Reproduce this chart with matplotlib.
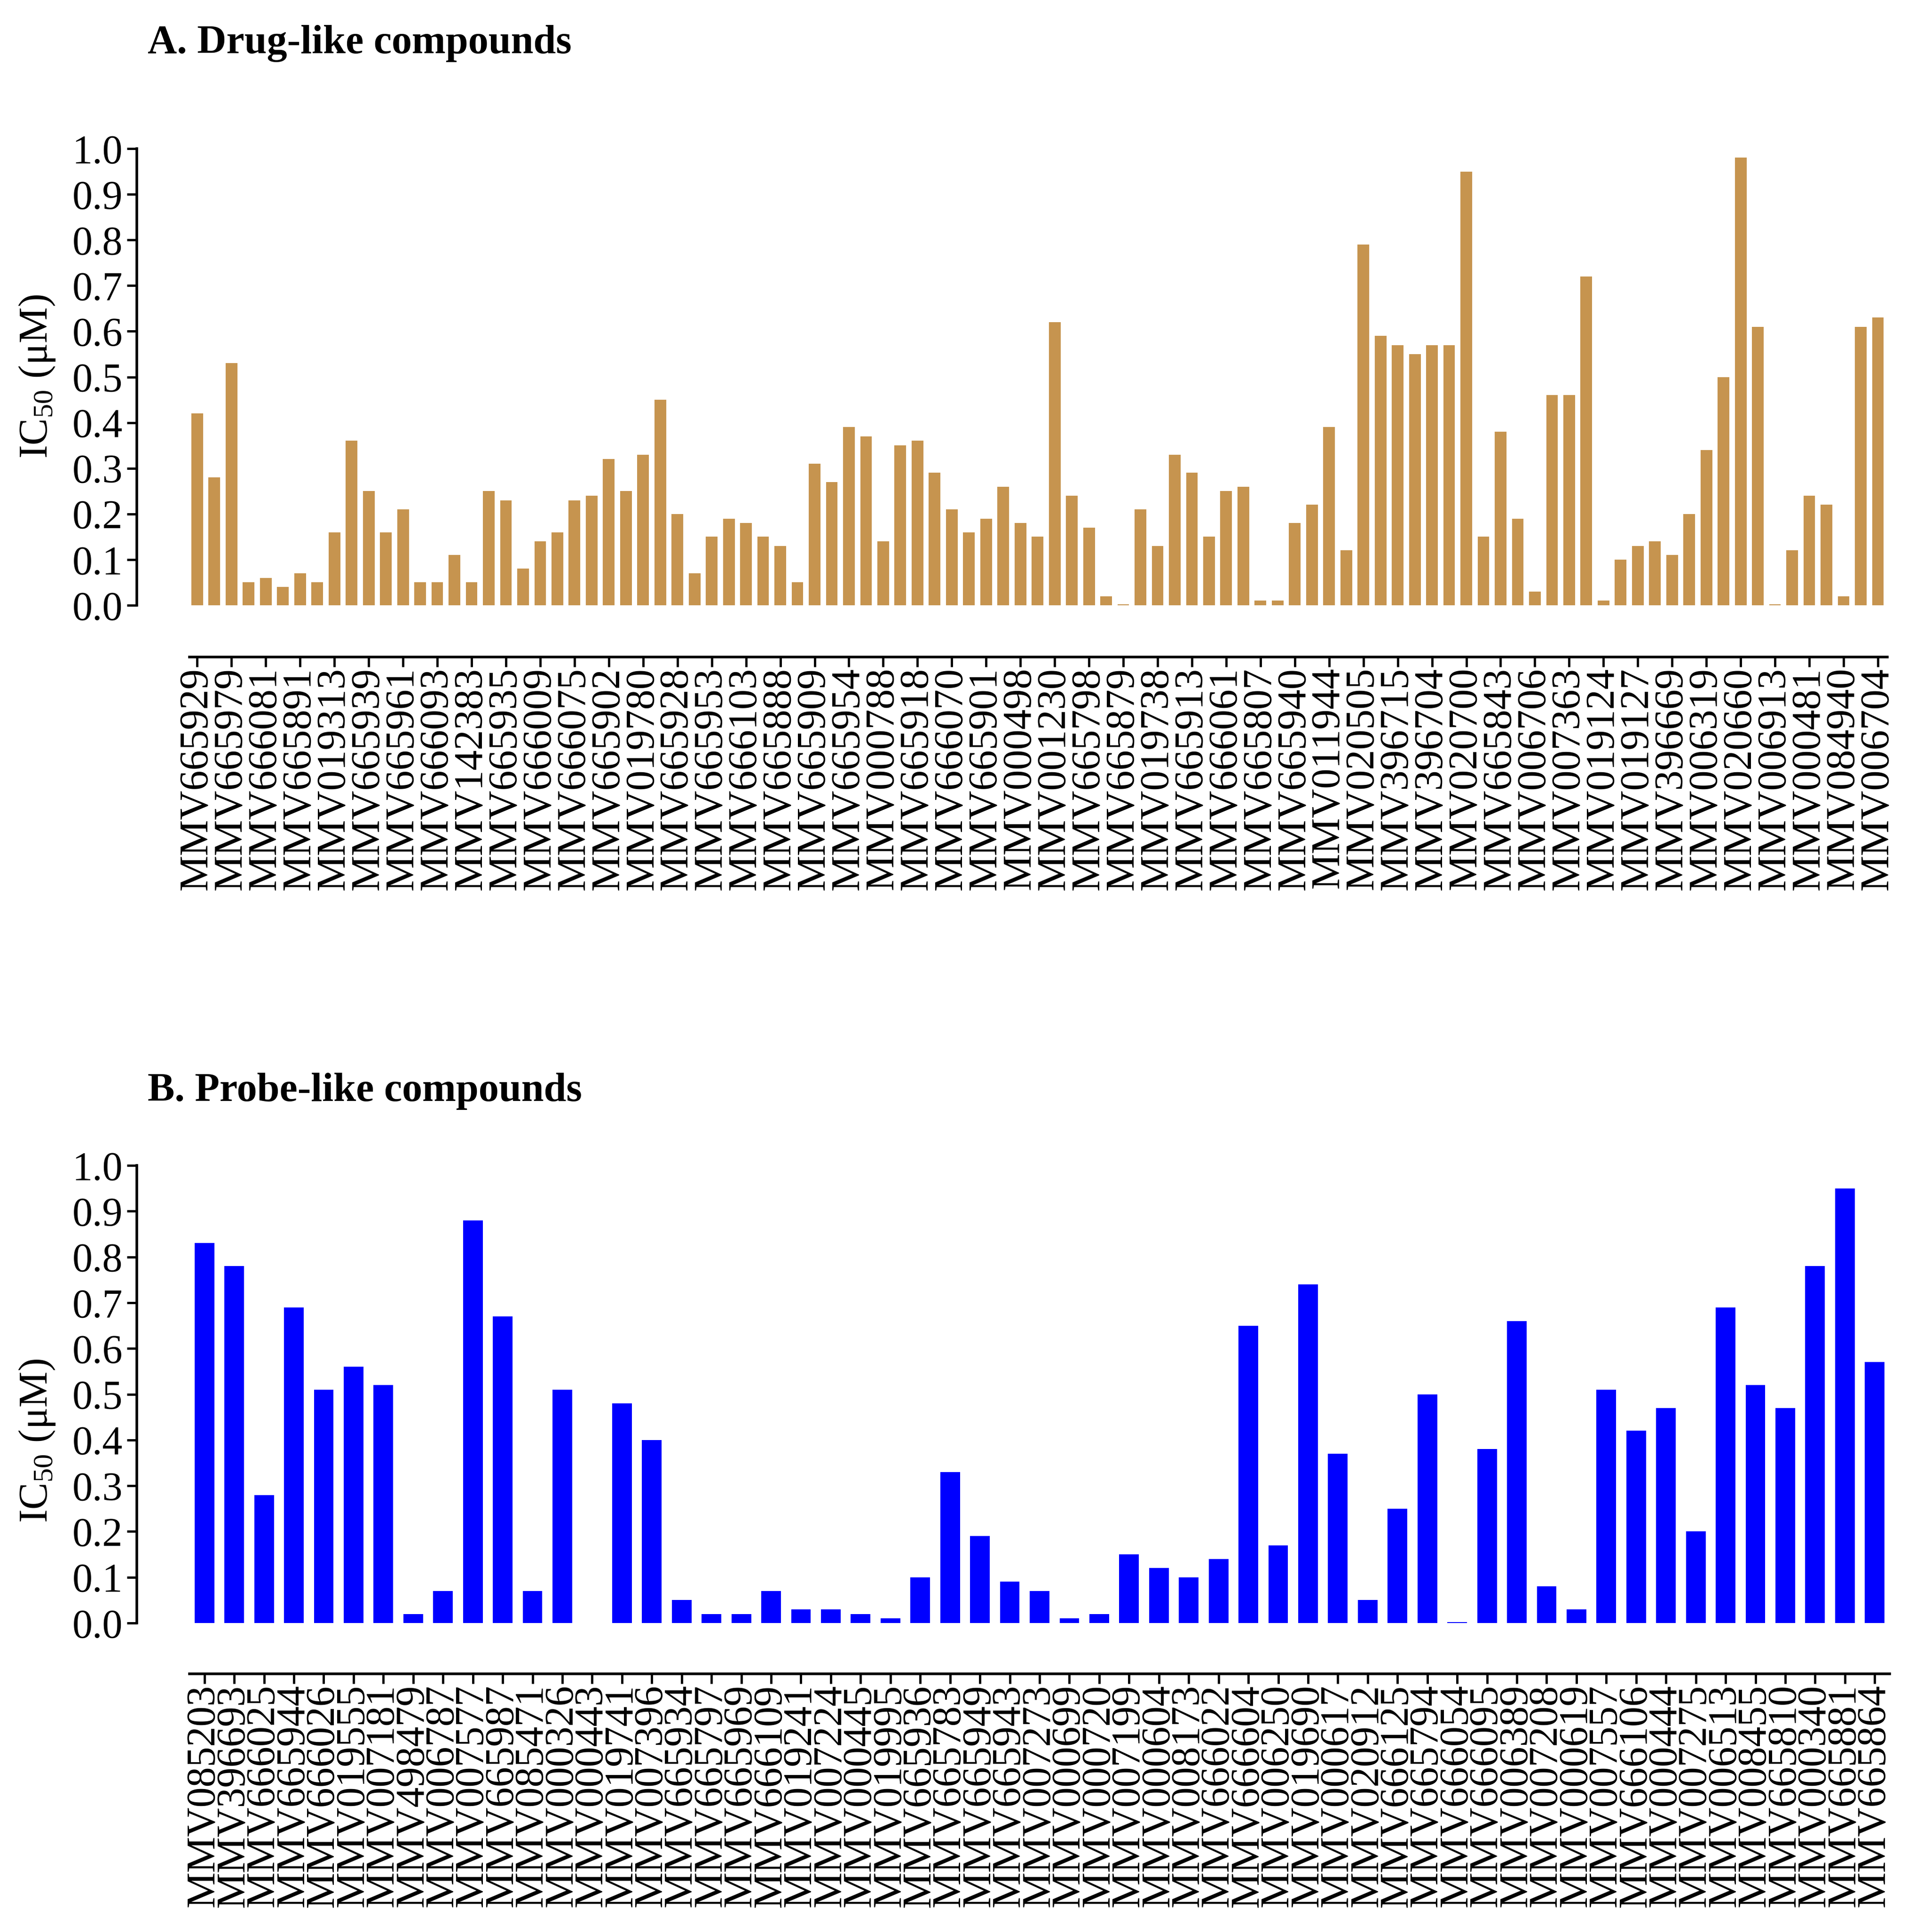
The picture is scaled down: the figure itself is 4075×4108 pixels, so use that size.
import numpy as np
import matplotlib
matplotlib.use("Agg")
import matplotlib.pyplot as plt

plt.rcParams['font.family'] = ['Liberation Serif', 'DejaVu Serif']
plt.rcParams['mathtext.fontset'] = 'custom'
plt.rcParams['mathtext.rm'] = 'Liberation Serif'
plt.rcParams['mathtext.it'] = 'Liberation Serif:italic'

# Panel A - drug-like compounds (only every other bar is labelled)
labels_a = ["MMV665929", "MMV665979", "MMV666081", "MMV665891", "MMV019313",
            "MMV665939", "MMV665961", "MMV666093", "MMV142383", "MMV665935",
            "MMV666009", "MMV666075", "MMV665902", "MMV019780", "MMV665928",
            "MMV665953", "MMV666103", "MMV665888", "MMV665909", "MMV665954",
            "MMV000788", "MMV665918", "MMV666070", "MMV665901", "MMV000498",
            "MMV001230", "MMV665798", "MMV665879", "MMV019738", "MMV665913",
            "MMV666061", "MMV665807", "MMV665940", "MMV011944", "MMV020505",
            "MMV396715", "MMV396704", "MMV020700", "MMV665843", "MMV006706",
            "MMV007363", "MMV019124", "MMV019127", "MMV396669", "MMV006319",
            "MMV020660", "MMV006913", "MMV000481", "MMV084940", "MMV006704"]
ic50_a = [0.42, 0.28, 0.53, 0.05, 0.06, 0.04, 0.07, 0.05, 0.16, 0.36,
          0.25, 0.16, 0.21, 0.05, 0.05, 0.11, 0.05, 0.25, 0.23, 0.08,
          0.14, 0.16, 0.23, 0.24, 0.32, 0.25, 0.33, 0.45, 0.20, 0.07,
          0.15, 0.19, 0.18, 0.15, 0.13, 0.05, 0.31, 0.27, 0.39, 0.37,
          0.14, 0.35, 0.36, 0.29, 0.21, 0.16, 0.19, 0.26, 0.18, 0.15,
          0.62, 0.24, 0.17, 0.02, 0.002, 0.21, 0.13, 0.33, 0.29, 0.15,
          0.25, 0.26, 0.01, 0.01, 0.18, 0.22, 0.39, 0.12, 0.79, 0.59,
          0.57, 0.55, 0.57, 0.57, 0.95, 0.15, 0.38, 0.19, 0.03, 0.46,
          0.46, 0.72, 0.01, 0.10, 0.13, 0.14, 0.11, 0.20, 0.34, 0.50,
          0.98, 0.61, 0.002, 0.12, 0.24, 0.22, 0.02, 0.61, 0.63]

# Panel B - probe-like compounds
labels_b = ["MMV085203", "MMV396693", "MMV666025", "MMV665944", "MMV666026",
            "MMV019555", "MMV007181", "MMV498479", "MMV006787", "MMV007577",
            "MMV665987", "MMV085471", "MMV000326", "MMV000443", "MMV019741",
            "MMV007396", "MMV665934", "MMV665797", "MMV665969", "MMV666109",
            "MMV019241", "MMV007224", "MMV000445", "MMV019995", "MMV665936",
            "MMV665783", "MMV665949", "MMV665943", "MMV007273", "MMV000699",
            "MMV000720", "MMV007199", "MMV000604", "MMV008173", "MMV666022",
            "MMV666604", "MMV006250", "MMV019690", "MMV000617", "MMV020912",
            "MMV666125", "MMV665794", "MMV666054", "MMV666095", "MMV006389",
            "MMV007208", "MMV000619", "MMV007557", "MMV666106", "MMV000444",
            "MMV007275", "MMV006513", "MMV008455", "MMV665810", "MMV000340",
            "MMV665881", "MMV665864"]
ic50_b = [0.83, 0.78, 0.28, 0.69, 0.51, 0.56, 0.52, 0.02, 0.07, 0.88,
          0.67, 0.07, 0.51, np.nan, 0.48, 0.40, 0.05, 0.02, 0.02, 0.07,
          0.03, 0.03, 0.02, 0.01, 0.10, 0.33, 0.19, 0.09, 0.07, 0.01,
          0.02, 0.15, 0.12, 0.10, 0.14, 0.65, 0.17, 0.74, 0.37, 0.05,
          0.25, 0.50, 0.002, 0.38, 0.66, 0.08, 0.03, 0.51, 0.42, 0.47,
          0.20, 0.69, 0.52, 0.47, 0.78, 0.95, 0.57]

W, H = 4075, 4108
fig = plt.figure(figsize=(W / 100, H / 100), dpi=100)

FS = 62
yticks = np.arange(0, 1.01, 0.1)


def style_axis(ax, outward_left, outward_bottom):
    for s in ['top', 'right']:
        ax.spines[s].set_visible(False)
    ax.spines['left'].set_position(('outward', outward_left))
    ax.spines['bottom'].set_position(('outward', outward_bottom))
    ax.spines['left'].set_bounds(0, 1.0)
    ax.spines['left'].set_linewidth(4)
    ax.spines['bottom'].set_linewidth(4)
    ax.set_ylim(0, 1.0)
    ax.set_yticks(yticks)
    ax.set_yticklabels([f"{t:.1f}" for t in yticks], fontsize=FS)
    ax.tick_params(axis='y', length=15, width=3.5, pad=6)
    ax.tick_params(axis='x', length=15, width=3.5, pad=1, labelsize=FS,
                   labelrotation=90)


# Panel A
ax1 = fig.add_axes([403 / W, 1 - 1287 / H, (4014 - 403) / W, 971 / H])
xa = np.arange(len(ic50_a))
ax1.bar(xa, ic50_a, width=0.68, color='#C6944F')
ax1.set_xlim(-0.45, 98.55)
style_axis(ax1, 81, 79)
ax1.set_xticks(xa[::2])
ax1.set_xticklabels(labels_a)

# Panel B
ax2 = fig.add_axes([403 / W, 1 - 3451 / H, (4019 - 403) / W, 973 / H])
xb = np.arange(len(ic50_b))
ax2.bar(xb, ic50_b, width=0.66, color='#0000FF')
ax2.set_xlim(-0.5, 56.5)
style_axis(ax2, 81, 78)
ax2.set_xticks(xb)
ax2.set_xticklabels(labels_b)

# titles and axis labels
fig.text(314 / W, 1 - 113 / H, "A. Drug-like compounds", fontsize=FS,
         fontweight='bold', ha='left', va='baseline')
fig.text(314 / W, 1 - 2341 / H, "B. Probe-like compounds", fontsize=FS,
         fontweight='bold', ha='left', va='baseline')
fig.text(79 / W, 1 - 801 / H, r"IC$_{50}$ (μM)", fontsize=FS, rotation=90,
         ha='center', va='center')
fig.text(79 / W, 1 - 3064 / H, r"IC$_{50}$ (μM)", fontsize=FS, rotation=90,
         ha='center', va='center')

fig.savefig("out.png", dpi=100, facecolor='white')
